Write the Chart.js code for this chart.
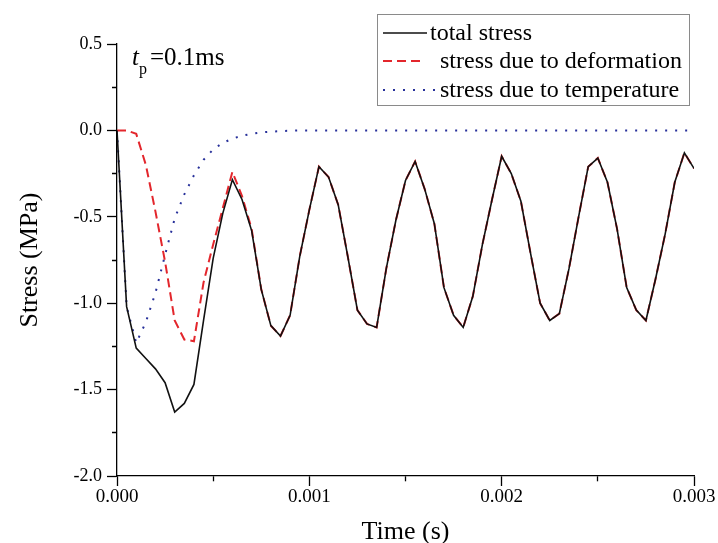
<!DOCTYPE html>
<html>
<head>
<meta charset="utf-8">
<script src="https://cdn.jsdelivr.net/npm/chart.js@4/dist/chart.umd.min.js"></script>
<style>
  html, body { margin: 0; padding: 0; background: #fff; }
  #wrap { width: 718px; height: 543px; }
</style>
</head>
<body>
<div id="wrap"><canvas id="stressChart" width="718" height="543"></canvas></div>
<script>
// time in seconds (sampled every 0.05 ms)
var times = [
    0, 0.00005, 0.0001, 0.00015, 0.0002, 0.00025, 0.0003, 0.00035, 0.0004, 0.00045,
    0.0005, 0.00055, 0.0006, 0.00065, 0.0007, 0.00075, 0.0008, 0.00085, 0.0009, 0.00095,
    0.001, 0.00105, 0.0011, 0.00115, 0.0012, 0.00125, 0.0013, 0.00135, 0.0014, 0.00145,
    0.0015, 0.00155, 0.0016, 0.00165, 0.0017, 0.00175, 0.0018, 0.00185, 0.0019, 0.00195,
    0.002, 0.00205, 0.0021, 0.00215, 0.0022, 0.00225, 0.0023, 0.00235, 0.0024, 0.00245,
    0.0025, 0.00255, 0.0026, 0.00265, 0.0027, 0.00275, 0.0028, 0.00285, 0.0029, 0.00295,
    0.003
];

var totalStress = [
    0, -1.02, -1.26, -1.32, -1.38, -1.46, -1.63, -1.58, -1.47, -1.10,
    -0.74, -0.48, -0.285, -0.40, -0.58, -0.92, -1.13, -1.19, -1.07, -0.73,
    -0.46, -0.21, -0.27, -0.43, -0.73, -1.04, -1.12, -1.14, -0.80, -0.52,
    -0.29, -0.18, -0.34, -0.54, -0.91, -1.07, -1.14, -0.96, -0.66, -0.40,
    -0.15, -0.25, -0.41, -0.71, -1.00, -1.10, -1.06, -0.80, -0.50, -0.21,
    -0.16, -0.30, -0.57, -0.91, -1.04, -1.10, -0.86, -0.60, -0.30, -0.13,
    -0.22
];

var deformationStress = [
    0, 0, -0.02, -0.20, -0.47, -0.76, -1.10, -1.21, -1.22, -0.88,
    -0.66, -0.45, -0.24, -0.38, -0.57, -0.92, -1.13, -1.19, -1.07, -0.73,
    -0.46, -0.21, -0.27, -0.43, -0.73, -1.04, -1.12, -1.14, -0.80, -0.52,
    -0.29, -0.18, -0.34, -0.54, -0.91, -1.07, -1.14, -0.96, -0.66, -0.40,
    -0.15, -0.25, -0.41, -0.71, -1.00, -1.10, -1.06, -0.80, -0.50, -0.21,
    -0.16, -0.30, -0.57, -0.91, -1.04, -1.10, -0.86, -0.60, -0.30, -0.13,
    -0.22
];

var temperatureStress = [
    0, -1.02, -1.23, -1.11, -0.94, -0.72, -0.51, -0.37, -0.26, -0.17,
    -0.11, -0.072, -0.048, -0.031, -0.02, -0.012, -0.007, -0.004, -0.002, 0,
    0, 0, 0, 0, 0, 0, 0, 0, 0, 0,
    0, 0, 0, 0, 0, 0, 0, 0, 0, 0,
    0, 0, 0, 0, 0, 0, 0, 0, 0, 0,
    0, 0, 0, 0, 0, 0, 0, 0, 0, 0,
    0
];

var seriesNames = ['total stress', 'stress due to deformation', 'stress due to temperature'];

var FONT = "'Liberation Serif', 'Times New Roman', serif";

function toPoints(values) {
    return values.map(function(v, i) { return { x: times[i], y: v }; });
}

function isMultiple(value, step) {
    var r = value / step;
    return Math.abs(r - Math.round(r)) < 1e-6;
}

// legend with a thin frame, like the original
var boxedLegend = {
    id: 'boxedLegend',
    afterDraw: function(chart) {
        var ctx = chart.ctx;
        var rows = [
            { y: 33, x0: 383, x1: 427, tx: 430 },
            { y: 61, x0: 383, x1: 424, tx: 440 },
            { y: 90, x0: 383, x1: 436, tx: 440 }
        ];
        ctx.save();
        ctx.strokeStyle = '#8a8a8a';
        ctx.lineWidth = 1;
        ctx.strokeRect(377.5, 14.5, 312, 91);
        ctx.font = '24px ' + FONT;
        ctx.textBaseline = 'middle';
        ctx.textAlign = 'left';
        chart.data.datasets.forEach(function(ds, i) {
            var r = rows[i];
            ctx.save();
            ctx.strokeStyle = ds.borderColor;
            ctx.lineWidth = ds.borderWidth;
            ctx.setLineDash(ds.borderDash || []);
            ctx.beginPath();
            ctx.moveTo(r.x0, r.y);
            ctx.lineTo(r.x1, r.y);
            ctx.stroke();
            ctx.restore();
            ctx.fillStyle = '#000';
            ctx.fillText(ds.label, r.tx, r.y + 1);
        });
        ctx.restore();
    }
};

// t_p = 0.1ms note
var pulseNote = {
    id: 'pulseNote',
    afterDraw: function(chart) {
        var ctx = chart.ctx;
        ctx.save();
        ctx.fillStyle = '#000';
        ctx.textBaseline = 'alphabetic';
        ctx.font = 'italic 25px ' + FONT;
        ctx.fillText('t', 132, 65);
        ctx.font = '16px ' + FONT;
        ctx.fillText('p', 139, 74);
        ctx.font = '25px ' + FONT;
        ctx.fillText('=0.1ms', 150, 65);
        ctx.restore();
    }
};

var ctx = document.getElementById('stressChart');
new Chart(ctx, {
    type: 'line',
    data: {
        datasets: [{
            label: seriesNames[0],
            data: toPoints(totalStress),
            borderColor: '#111111',
            borderWidth: 1.6,
            pointRadius: 0,
            tension: 0
        }, {
            label: seriesNames[1],
            data: toPoints(deformationStress),
            borderColor: '#e3262c',
            borderWidth: 2,
            borderDash: [9, 5],
            pointRadius: 0,
            tension: 0
        }, {
            label: seriesNames[2],
            data: toPoints(temperatureStress),
            borderColor: '#27309a',
            borderWidth: 2,
            borderDash: [2, 8],
            pointRadius: 0,
            tension: 0
        }]
    },
    options: {
        responsive: false,
        animation: false,
        maintainAspectRatio: false,
        layout: { padding: { top: 44, right: 24, left: 0, bottom: 0 } },
        scales: {
            x: {
                type: 'linear',
                min: 0,
                max: 0.003,
                afterFit: function(scale) { scale.height = 67; },
                border: { display: true, color: '#000', width: 1.3 },
                grid: {
                    drawOnChartArea: false,
                    drawTicks: true,
                    tickLength: 10,
                    tickColor: '#000',
                    tickWidth: 1.3,
                    tickBorderDash: function(c) {
                        return isMultiple(c.tick.value, 0.001) ? [] : [5, 100];
                    }
                },
                ticks: {
                    stepSize: 0.0005,
                    padding: 0,
                    color: '#000',
                    maxRotation: 0,
                    autoSkip: false,
                    font: { family: FONT, size: 19 },
                    callback: function(value) {
                        return isMultiple(value, 0.001) ? value.toFixed(3) : '';
                    }
                },
                title: {
                    display: true,
                    text: 'Time (s)',
                    color: '#000',
                    font: { family: FONT, size: 26, lineHeight: 1 },
                    padding: { top: 0, bottom: -2 }
                }
            },
            y: {
                type: 'linear',
                min: -2,
                max: 0.5,
                afterFit: function(scale) { scale.width = 117; },
                border: { display: true, color: '#000', width: 1.3 },
                grid: {
                    drawOnChartArea: false,
                    drawTicks: true,
                    tickLength: 10,
                    tickColor: '#000',
                    tickWidth: 1.3,
                    tickBorderDash: function(c) {
                        return isMultiple(c.tick.value, 0.5) ? [] : [0, 5, 5, 100];
                    }
                },
                ticks: {
                    stepSize: 0.25,
                    padding: 5,
                    color: '#000',
                    autoSkip: false,
                    font: { family: FONT, size: 18 },
                    callback: function(value) {
                        return isMultiple(value, 0.5) ? value.toFixed(1) : '';
                    }
                },
                title: {
                    display: true,
                    text: 'Stress (MPa)',
                    color: '#000',
                    font: { family: FONT, size: 26 },
                    padding: { top: 15, bottom: 0 }
                }
            }
        },
        plugins: {
            legend: { display: false },
            tooltip: { enabled: false }
        }
    },
    plugins: [boxedLegend, pulseNote]
});
</script>
</body>
</html>
